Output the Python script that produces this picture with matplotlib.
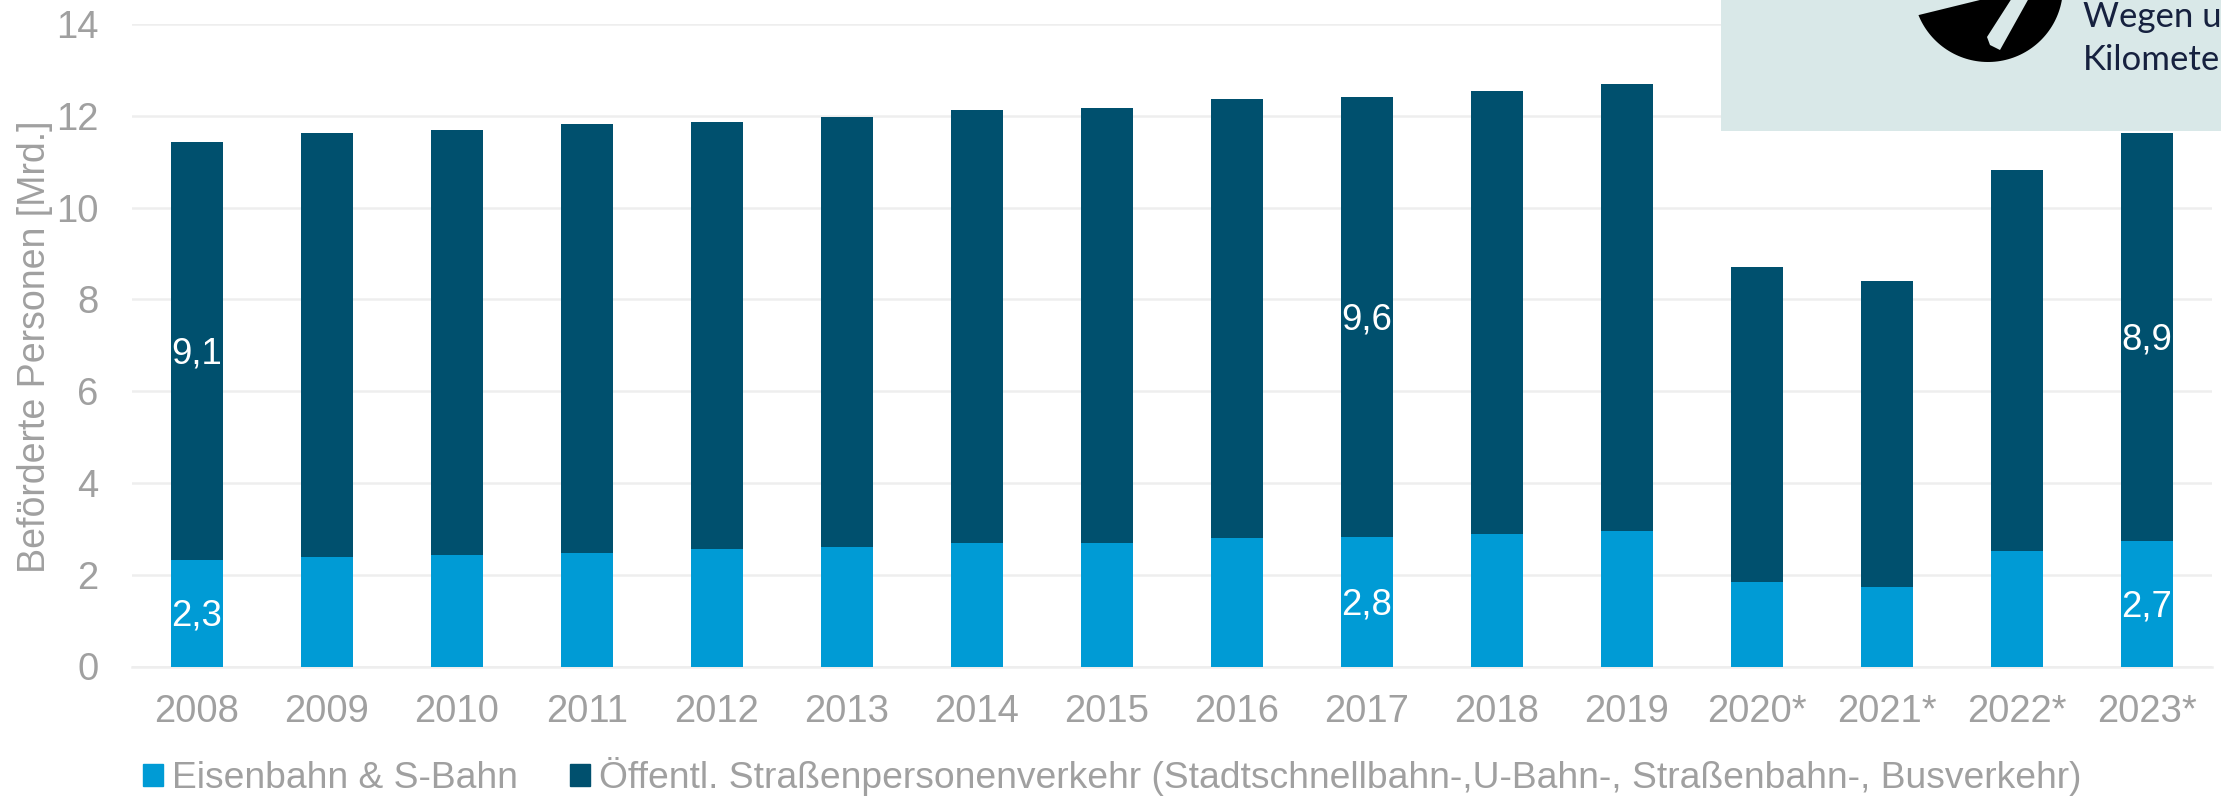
import matplotlib
matplotlib.use("Agg")
import matplotlib.pyplot as plt
import numpy as np
from matplotlib.patches import Rectangle, Polygon, Patch

years = ["2008","2009","2010","2011","2012","2013","2014","2015","2016","2017","2018","2019","2020*","2021*","2022*","2023*"]
rail = [2.33,2.39,2.42,2.48,2.55,2.61,2.69,2.70,2.79,2.82,2.89,2.96,1.84,1.73,2.52,2.73]
total = [11.43,11.62,11.70,11.82,11.87,11.98,12.13,12.16,12.36,12.42,12.53,12.70,8.70,8.41,10.82,11.63]
road = [t - r for t, r in zip(total, rail)]
rail_labels = {"2008":"2,3","2017":"2,8","2023*":"2,7"}
road_labels = {"2008":"9,1","2017":"9,6","2023*":"8,9"}
legend_labels = ["Eisenbahn & S-Bahn","Öffentl. Straßenpersonenverkehr (Stadtschnellbahn-,U-Bahn-, Straßenbahn-, Busverkehr)"]

W, H = 2221, 796
LIGHT, DARK = "#009bd5", "#00506e"
GREY = "#a0a0a0"
plt.rcParams["font.family"] = ["Liberation Sans", "DejaVu Sans"]

fig = plt.figure(figsize=(W/100, H/100), dpi=100)
ax = fig.add_axes([132/W, 1-666.5/H, 2080/W, 642.5/H])
x = range(len(years))
ax.bar(x, rail, width=0.4, color=LIGHT, zorder=3)
ax.bar(x, road, bottom=rail, width=0.4, color=DARK, zorder=3)
ax.set_xlim(-0.5, 15.5)
ax.set_ylim(0, 14)
ax.set_yticks(range(0, 15, 2))
ax.set_xticks(list(x), years)
ax.grid(axis="y", color="#eeeeee", lw=1.8, zorder=0)
ax.tick_params(length=0, labelcolor=GREY, labelsize=27.5)
ax.tick_params(axis="x", pad=19.5)
ax.tick_params(axis="y", pad=24)
for s in ["top","left","right"]:
    ax.spines[s].set_visible(False)
ax.spines["bottom"].set_color("#eeeeee")
ax.spines["bottom"].set_linewidth(1.8)
for i, y in enumerate(years):
    if y in rail_labels:
        for yy, lab in ((rail[i]/2, rail_labels[y]), (rail[i]+road[i]/2, road_labels[y])):
            ax.annotate(lab, (i, yy), xytext=(0, -2), textcoords="offset points", color="white",
                        fontsize=26.3, ha="center", va="center", zorder=4)

fig.text(35/W, 1-347/H, "Beförderte Personen [Mrd.]", rotation=90, color=GREY, fontsize=27, ha="center", va="center")

handles = [Patch(color=LIGHT), Patch(color=DARK)]
fig.legend(handles, legend_labels, ncol=2, loc="center left", bbox_to_anchor=(143/W, 1-777/H),
           frameon=False, fontsize=26.85, labelcolor=GREY, borderpad=0, borderaxespad=0,
           handlelength=0.53, handleheight=0.53, handletextpad=0.26, columnspacing=1.38)

# Overlay panel in the top-right corner (cut by the figure edge)
ov = fig.add_axes([0, 0, 1, 1], zorder=10)
ov.set_xlim(0, W); ov.set_ylim(H, 0); ov.axis("off")
PANEL = "#d9e8e8"
ov.add_patch(Rectangle((1721, 0), 500, 130.5, color=PANEL, lw=0))
ang = np.radians(np.linspace(-3, 158, 80))
arc = np.column_stack([1988 + 75*np.cos(ang), -13 + 75*np.sin(ang)])
ov.add_patch(Polygon(np.vstack([arc, [(1984, -1)]]), closed=True, color="black", lw=0))
ov.add_patch(Polygon([(2012, -2), (2029, -2), (2000, 50), (1990, 45), (1987, 37)], closed=True, color=PANEL, lw=0))
ov.text(2083, 27, "Wegen und", family="Lato", fontsize=25, color="#16213f", va="baseline", ha="left")
ov.text(2083, 70, "Kilometern", family="Lato", fontsize=25, color="#16213f", va="baseline", ha="left")

fig.savefig("out.png", dpi=100)
